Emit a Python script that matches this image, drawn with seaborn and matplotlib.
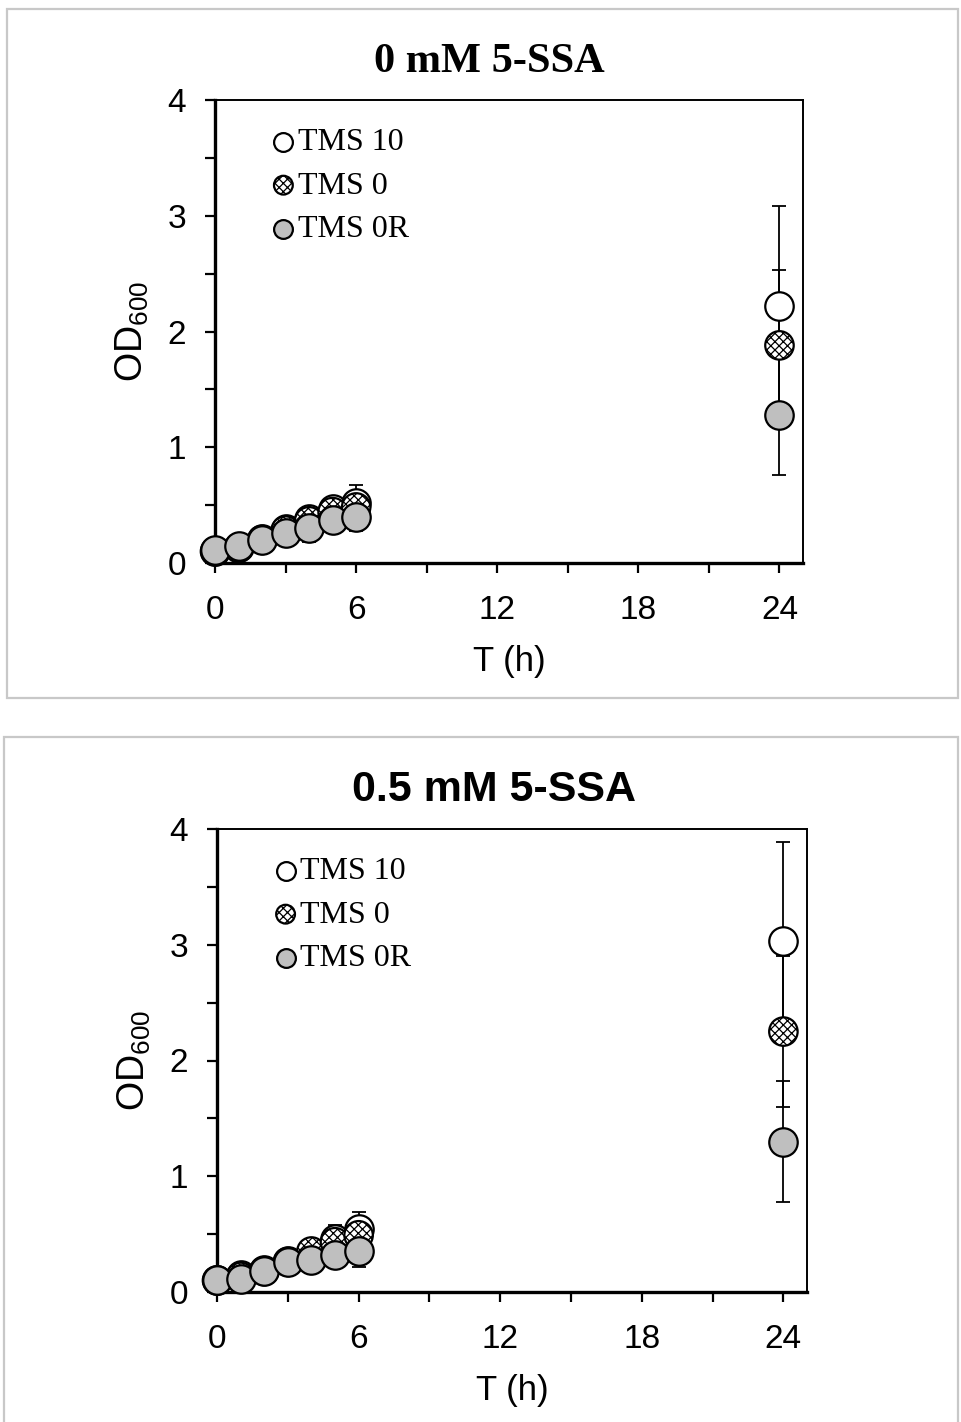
import numpy as np
import pandas as pd
import matplotlib
matplotlib.use("Agg")
import matplotlib.pyplot as plt
from matplotlib.patches import Rectangle
from matplotlib.ticker import MultipleLocator
import seaborn as sns

# time points (h)
hours = [0, 1, 2, 3, 4, 5, 6, 24]
series_names = ["TMS 10", "TMS 0", "TMS 0R"]

# 0 mM 5-SSA
top_tms10 = [0.10, 0.14, 0.21, 0.29, 0.38, 0.47, 0.52, 2.22]
top_tms0 = [0.10, 0.13, 0.20, 0.28, 0.36, 0.44, 0.48, 1.88]
top_tms0r = [0.11, 0.15, 0.20, 0.26, 0.30, 0.37, 0.40, 1.28]
top_err10 = [0.02, 0.03, 0.03, 0.04, 0.08, 0.10, 0.15, 0.86]
top_err0 = [0.02, 0.02, 0.03, 0.04, 0.06, 0.08, 0.10, 0.65]
top_err0r = [0.02, 0.02, 0.03, 0.04, 0.12, 0.10, 0.12, 0.52]

# 0.5 mM 5-SSA
bot_tms10 = [0.10, 0.15, 0.19, 0.27, 0.33, 0.46, 0.54, 3.03]
bot_tms0 = [0.10, 0.13, 0.18, 0.26, 0.35, 0.43, 0.49, 2.25]
bot_tms0r = [0.10, 0.11, 0.18, 0.26, 0.28, 0.32, 0.35, 1.30]
bot_err10 = [0.02, 0.03, 0.03, 0.04, 0.10, 0.12, 0.15, 0.86]
bot_err0 = [0.02, 0.02, 0.03, 0.04, 0.08, 0.10, 0.12, 0.65]
bot_err0r = [0.02, 0.02, 0.03, 0.04, 0.12, 0.11, 0.13, 0.52]

sns.set_style("ticks")
plt.rcParams["font.family"] = ["Liberation Sans", "DejaVu Sans"]
plt.rcParams["hatch.linewidth"] = 0.9
plt.rcParams["text.color"] = "black"
plt.rcParams["axes.labelcolor"] = "black"
plt.rcParams["xtick.color"] = "black"
plt.rcParams["ytick.color"] = "black"
plt.rcParams["axes.edgecolor"] = "black"

fig = plt.figure(figsize=(9.61, 14.22), dpi=100)

# grey frames around each chart
fig.patches.append(Rectangle((7 / 961, 1 - 698 / 1422), 951 / 961, 689 / 1422,
                             transform=fig.transFigure, fill=False,
                             edgecolor="#c8c8c8", linewidth=1.6))
fig.patches.append(Rectangle((4 / 961, -0.05), 954 / 961, 0.05 + 1 - 737 / 1422,
                             transform=fig.transFigure, fill=False,
                             edgecolor="#c8c8c8", linewidth=1.6))

styles = [
    dict(facecolor="white", hatch=None),
    dict(facecolor="white", hatch="xxxx"),
    dict(facecolor="#bfbfbf", hatch=None),
]


def draw_panel(ax, vals, errs, title, title_font, title_x, title_size):
    df = pd.DataFrame({"T": hours * 3,
                       "OD": np.concatenate(vals),
                       "err": np.concatenate(errs),
                       "series": np.repeat(series_names, len(hours))})
    for i, name in enumerate(series_names):
        sub = df[df["series"] == name]
        ax.errorbar(sub["T"], sub["OD"], yerr=sub["err"], fmt="none",
                    ecolor="black", elinewidth=1.3, capsize=5, capthick=1.3,
                    zorder=2 + i * 0.1, clip_on=False)
        kw = dict(s=420, color=styles[i]["facecolor"], edgecolor="black",
                  linewidth=1.6, label=name, zorder=3 + i * 0.1, legend=False,
                  clip_on=False)
        if styles[i]["hatch"]:
            kw["hatch"] = styles[i]["hatch"]
        sns.scatterplot(data=sub, x="T", y="OD", ax=ax, **kw)

    ax.set_xlim(0, 25)
    ax.set_ylim(0, 4)
    ax.xaxis.set_major_locator(MultipleLocator(6))
    ax.xaxis.set_minor_locator(MultipleLocator(3))
    ax.yaxis.set_major_locator(MultipleLocator(1))
    ax.yaxis.set_minor_locator(MultipleLocator(0.5))
    ax.tick_params(which="both", direction="out", length=7, width=1.6,
                   labelsize=24, color="black", labelcolor="black")
    ax.tick_params(axis="y", pad=14)
    ax.tick_params(axis="x", pad=16)
    for side in ["left", "bottom"]:
        ax.spines[side].set_linewidth(2.4)
    for side in ["top", "right"]:
        ax.spines[side].set_linewidth(1.4)
        ax.spines[side].set_visible(True)
    ax.set_xlabel("T (h)", fontsize=25, labelpad=14)
    ax.set_ylabel(r"OD$_{\mathregular{600}}$", fontsize=27, labelpad=12)
    ax.set_title(title, fontsize=title_size, fontweight="bold", pad=20,
                 x=title_x, **title_font)

    leg = ax.legend(loc="upper left", bbox_to_anchor=(0.1, 0.94),
                    frameon=False, markerscale=0.66, handlelength=0.6,
                    handletextpad=0.15, labelspacing=0.44, borderpad=0,
                    borderaxespad=0,
                    prop={"family": ["Liberation Serif"], "size": 23})
    return leg


ax1 = fig.add_axes([215 / 961, 1 - 563 / 1422, 588 / 961, 463 / 1422])
draw_panel(ax1, [top_tms10, top_tms0, top_tms0r],
           [top_err10, top_err0, top_err0r], "0 mM 5-SSA",
           {"family": ["Liberation Serif"]}, 0.466, 30.5)

ax2 = fig.add_axes([217 / 961, 1 - 1292 / 1422, 590 / 961, 463 / 1422])
draw_panel(ax2, [bot_tms10, bot_tms0, bot_tms0r],
           [bot_err10, bot_err0, bot_err0r], "0.5 mM 5-SSA",
           {"family": ["Liberation Sans"]}, 0.469, 31)

fig.savefig("out.png", dpi=100)
